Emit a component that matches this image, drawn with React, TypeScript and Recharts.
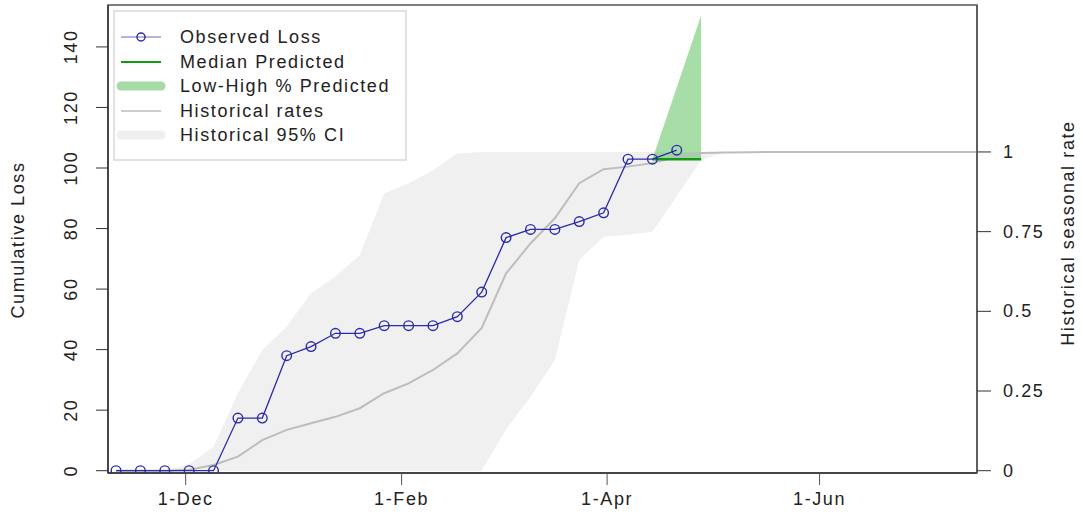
import { Area, ComposedChart, Legend, Line, ReferenceArea, XAxis, YAxis } from 'recharts'

const FONT = '"Liberation Sans", Arial, Helvetica, sans-serif'
const BLUE = '#2b2ba8'
const GREEN = '#129a12'
const GREEN_FILL = '#22aa22'
const HIST_GREY = '#bdbdbd'
const CI_GREY = '#f0f0f0'
const INK = '#222'

// observed weekly cumulative loss
const obsDates = [
  '2018-11-11', '2018-11-18', '2018-11-25', '2018-12-02', '2018-12-09', '2018-12-16',
  '2018-12-23', '2018-12-30', '2019-01-06', '2019-01-13', '2019-01-20', '2019-01-27',
  '2019-02-03', '2019-02-10', '2019-02-17', '2019-02-24', '2019-03-03', '2019-03-10',
  '2019-03-17', '2019-03-24', '2019-03-31', '2019-04-07', '2019-04-14', '2019-04-21',
]
const obsLoss = [
  0, 0, 0, 0, 0, 17.4, 17.4, 38, 41, 45.4, 45.4, 47.9,
  47.9, 47.9, 50.9, 59, 77, 79.7, 79.7, 82.3, 85.2, 102.9, 102.9, 105.9,
]

// prediction
const predDates = ['2019-04-14', '2019-04-28']
const predMedian = [102.9, 102.9]
const predLow = [102.9, 102.9]
const predHigh = [102.9, 150.5]

// historical seasonal rate (0..1) + 95% CI
const histDates = [
  '2018-11-11', '2018-11-18', '2018-11-25', '2018-12-02', '2018-12-09', '2018-12-16',
  '2018-12-23', '2018-12-30', '2019-01-06', '2019-01-13', '2019-01-20', '2019-01-27',
  '2019-02-03', '2019-02-10', '2019-02-17', '2019-02-24', '2019-03-03', '2019-03-10',
  '2019-03-17', '2019-03-24', '2019-03-31', '2019-04-07', '2019-04-14', '2019-04-21',
  '2019-04-28', '2019-05-05', '2019-05-12', '2019-05-19', '2019-05-26', '2019-06-02',
  '2019-06-09', '2019-06-16', '2019-06-23', '2019-06-30', '2019-07-07', '2019-07-14',
  '2019-07-21',
]
const histRate = [
  0, 0, 0, 0.003, 0.018, 0.044, 0.096, 0.128, 0.149, 0.169, 0.196, 0.243,
  0.274, 0.316, 0.368, 0.448, 0.619, 0.713, 0.792, 0.902, 0.946, 0.954, 0.965, 0.985,
  0.997, 0.998, 0.999, 1, 1, 1, 1, 1, 1, 1, 1, 1, 1,
]
const ciLow = [
  0, 0, 0, 0, 0, 0, 0, 0, 0, 0, 0, 0,
  0, 0, 0, 0, 0.13, 0.232, 0.347, 0.661, 0.734, 0.74, 0.75, 0.861,
  0.975, 1, 1, 1, 1, 1, 1, 1, 1, 1, 1, 1, 1,
]
const ciHigh = [
  0, 0, 0, 0.02, 0.075, 0.243, 0.379, 0.452, 0.557, 0.609, 0.677, 0.87,
  0.902, 0.943, 0.995, 1, 1, 1, 1, 1, 1, 1, 1, 1,
  1, 1, 1, 1, 1, 1, 1, 1, 1, 1, 1, 1, 1,
]

const xTickDates = ['2018-12-01', '2019-02-01', '2019-04-01', '2019-06-01']
const xTickLabels = ['1-Dec', '1-Feb', '1-Apr', '1-Jun']
const lossTicks = [0, 20, 40, 60, 80, 100, 120, 140]
const rateTicks = [0, 0.25, 0.5, 0.75, 1]
const rateTickLabels = ['0', '0.25', '0.5', '0.75', '1']

const legendLabels = [
  'Observed Loss',
  'Median Predicted',
  'Low-High % Predicted',
  'Historical rates',
  'Historical 95% CI',
]

const toDay = (s: string) => Date.parse(s + 'T00:00:00Z') / 86400000

const DEC1 = toDay('2018-12-01')
const X_DOMAIN: [number, number] = [DEC1 - 22.3, DEC1 + 227.2]
const LOSS_DOMAIN: [number, number] = [-0.76, 153.85]
const RATE_SCALE = 105.3
const RATE_DOMAIN: [number, number] = [LOSS_DOMAIN[0] / RATE_SCALE, LOSS_DOMAIN[1] / RATE_SCALE]

const observed = obsDates.map((d, i) => ({ t: toDay(d), loss: obsLoss[i] }))
const predicted = predDates.map((d, i) => ({
  t: toDay(d),
  median: predMedian[i],
  band: [predLow[i], predHigh[i]],
}))
const historical = histDates.map((d, i) => ({
  t: toDay(d),
  rate: histRate[i],
  ci: [ciLow[i], ciHigh[i]],
}))

const txt = { fontFamily: FONT, fontSize: 18, fill: INK, letterSpacing: 1.6 }

function LeftTick({ y, payload }: any) {
  return (
    <text {...txt} x={71} y={y} transform={`rotate(-90 71 ${y})`} textAnchor="middle" dominantBaseline="central">
      {payload.value}
    </text>
  )
}

function RightTick({ y, payload }: any) {
  const i = rateTicks.indexOf(payload.value)
  return (
    <text {...txt} x={1003} y={y} textAnchor="start" dominantBaseline="central">
      {rateTickLabels[i]}
    </text>
  )
}

function BottomTick({ x, payload }: any) {
  const i = xTickDates.map(toDay).indexOf(payload.value)
  return (
    <text {...txt} x={x} y={499} textAnchor="middle" dominantBaseline="central">
      {xTickLabels[i]}
    </text>
  )
}

function AxisTitle({ cx, cy, text }: { cx: number; cy: number; text: string }) {
  return (
    <text {...txt} x={cx} y={cy} transform={`rotate(-90 ${cx} ${cy})`} textAnchor="middle" dominantBaseline="central">
      {text}
    </text>
  )
}

function LegendIcon({ i }: { i: number }) {
  return (
    <svg width={52} height={20} style={{ display: 'block' }}>
      {i === 0 && (
        <>
          <line x1={6} x2={46} y1={10} y2={10} stroke={BLUE} strokeOpacity={0.7} strokeWidth={1.2} />
          <circle cx={26} cy={10} r={4} fill="none" stroke={BLUE} strokeWidth={1.5} />
        </>
      )}
      {i === 1 && <line x1={6} x2={46} y1={10} y2={10} stroke={GREEN} strokeWidth={2} />}
      {i === 2 && <line x1={6} x2={46} y1={10} y2={10} stroke="#a6daa6" strokeWidth={9} strokeLinecap="round" />}
      {i === 3 && <line x1={6} x2={46} y1={10} y2={10} stroke={HIST_GREY} strokeWidth={1.5} />}
      {i === 4 && <line x1={6} x2={46} y1={10} y2={10} stroke="#efefef" strokeWidth={9} strokeLinecap="round" />}
    </svg>
  )
}

function LegendBox() {
  return (
    <div
      style={{
        width: 294,
        height: 151,
        boxSizing: 'border-box',
        border: '2px solid #e2e2e2',
        background: '#fff',
        paddingTop: 13,
        fontFamily: FONT,
        fontSize: 18,
        letterSpacing: 1.6,
        color: INK,
      }}
    >
      {legendLabels.map((label, i) => (
        <div key={label} style={{ display: 'flex', alignItems: 'center', height: 24.5 }}>
          <div style={{ width: 65 }}>
            <LegendIcon i={i} />
          </div>
          <span style={{ lineHeight: '24.5px', whiteSpace: 'nowrap' }}>{label}</span>
        </div>
      ))}
    </div>
  )
}

export default function App() {
  return (
    <div style={{ position: 'absolute', left: 0, top: 0, background: '#fff' }}>
      <ComposedChart width={1083} height={527} margin={{ top: 5, right: 0, bottom: 0, left: 0 }}>
        <XAxis
          type="number"
          dataKey="t"
          domain={X_DOMAIN}
          allowDataOverflow
          ticks={xTickDates.map(toDay)}
          tick={<BottomTick />}
          tickSize={12}
          tickLine={{ stroke: '#555' }}
          axisLine={{ stroke: '#333', strokeWidth: 1.5 }}
          height={54}
        />
        <YAxis
          yAxisId="left"
          type="number"
          domain={LOSS_DOMAIN}
          allowDataOverflow
          ticks={lossTicks}
          tick={<LeftTick />}
          tickSize={12}
          tickLine={{ stroke: '#333' }}
          axisLine={{ stroke: '#333', strokeWidth: 1.5 }}
          width={108}
          label={<AxisTitle cx={18} cy={240} text="Cumulative Loss" />}
        />
        <YAxis
          yAxisId="right"
          orientation="right"
          type="number"
          domain={RATE_DOMAIN}
          allowDataOverflow
          ticks={rateTicks}
          tick={<RightTick />}
          tickSize={14}
          tickLine={{ stroke: '#333' }}
          axisLine={{ stroke: '#555', strokeWidth: 1.5 }}
          width={106}
          label={<AxisTitle cx={1068} cy={233} text="Historical seasonal rate" />}
        />
        <Legend
          layout="horizontal"
          align="center"
          verticalAlign="middle"
          wrapperStyle={{ left: 113, top: 10, width: 294, height: 151 }}
          content={() => <LegendBox />}
        />
        <Area
          yAxisId="right"
          data={historical}
          dataKey="ci"
          type="linear"
          fill={CI_GREY}
          fillOpacity={1}
          stroke="none"
          isAnimationActive={false}
        />
        <Area
          yAxisId="left"
          data={predicted}
          dataKey="band"
          type="linear"
          fill={GREEN_FILL}
          fillOpacity={0.4}
          stroke="none"
          isAnimationActive={false}
        />
        <Line
          yAxisId="right"
          data={historical}
          dataKey="rate"
          type="linear"
          stroke={HIST_GREY}
          strokeWidth={2}
          dot={false}
          activeDot={false}
          isAnimationActive={false}
        />
        <Line
          yAxisId="left"
          data={predicted}
          dataKey="median"
          type="linear"
          stroke={GREEN}
          strokeWidth={2.5}
          dot={false}
          activeDot={false}
          isAnimationActive={false}
        />
        <Line
          yAxisId="left"
          data={observed}
          dataKey="loss"
          type="linear"
          stroke={BLUE}
          strokeWidth={1.3}
          dot={{ r: 4.8, fill: 'none', stroke: BLUE, strokeWidth: 1.4 }}
          activeDot={false}
          isAnimationActive={false}
        />
        <ReferenceArea
          yAxisId="left"
          x1={X_DOMAIN[0]}
          x2={X_DOMAIN[1]}
          y1={LOSS_DOMAIN[0]}
          y2={LOSS_DOMAIN[1]}
          fill="none"
          stroke="#555"
          strokeWidth={1.5}
          ifOverflow="visible"
        />
      </ComposedChart>
    </div>
  )
}
